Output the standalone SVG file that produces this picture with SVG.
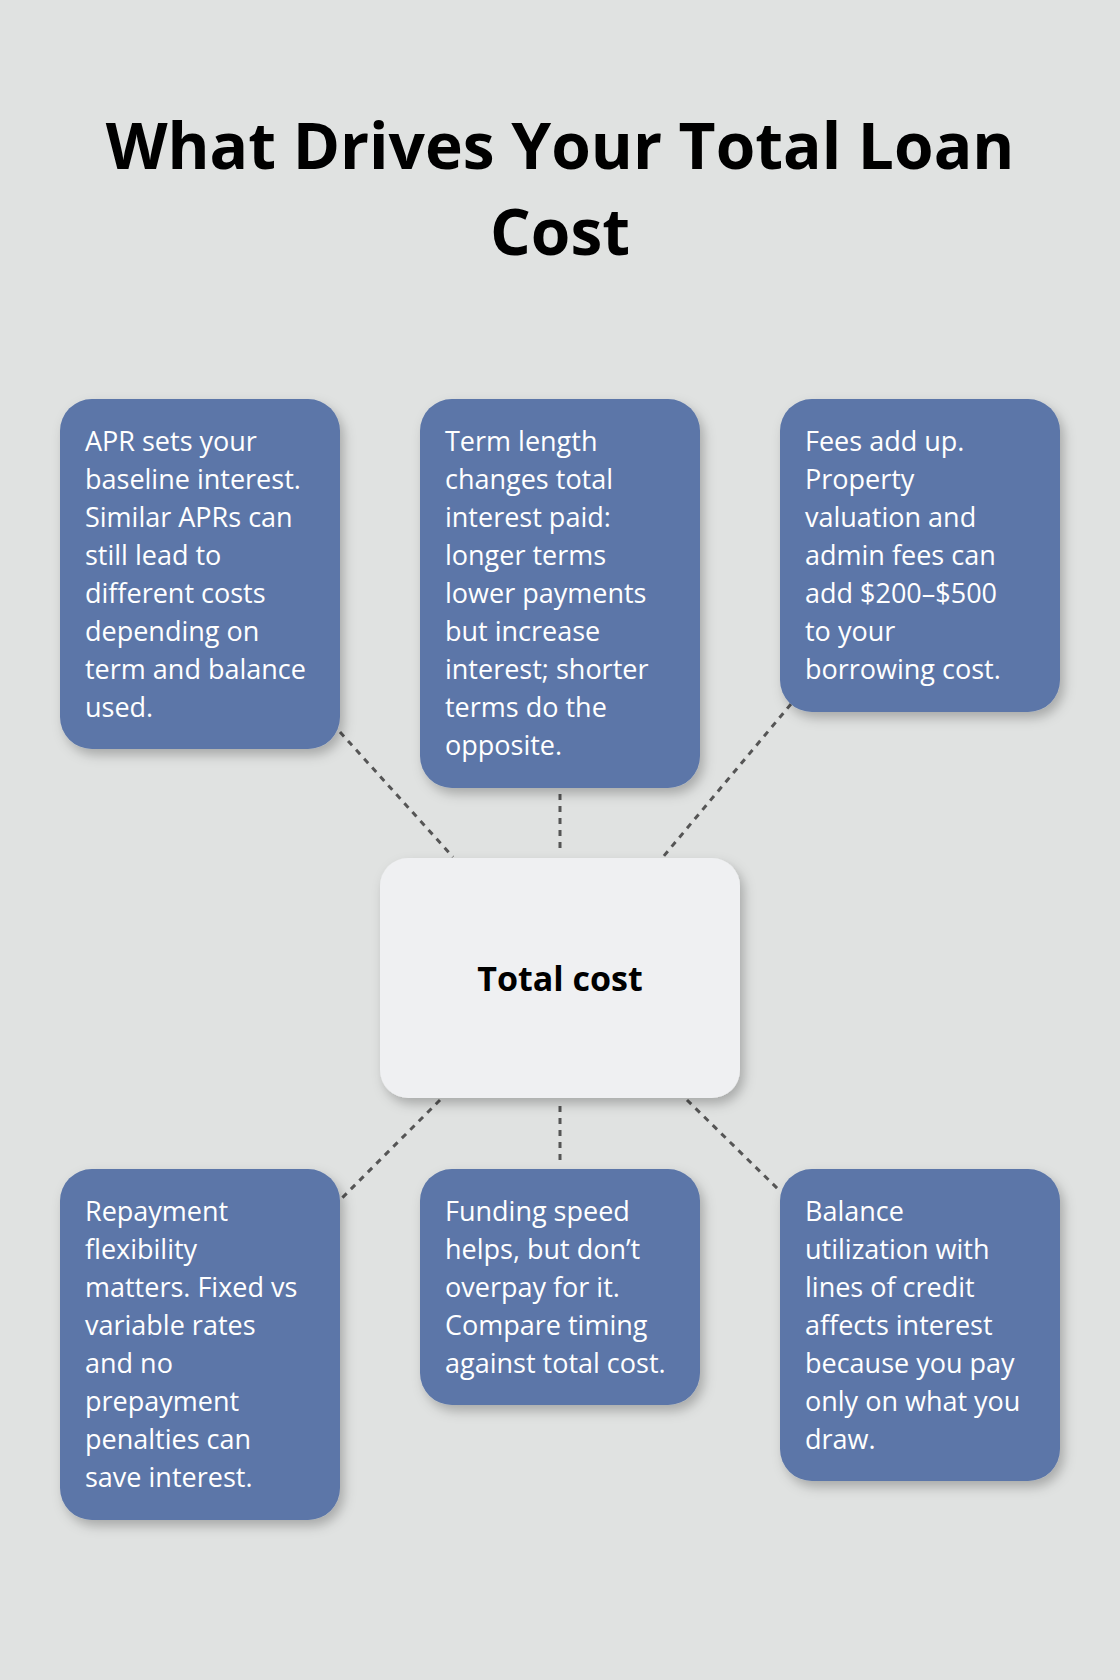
<svg xmlns="http://www.w3.org/2000/svg" width="1120" height="1680" viewBox="0 0 1120 1680">
<style>
.t{font-family:"Open Sans","Noto Sans",sans-serif;}
.title{font-size:64px;font-weight:700;fill:#000;}
.box{fill:#5b76a8;filter:url(#sh);}
.bt{font-size:27px;fill:#fff;}
.c{stroke:#555;stroke-width:3;stroke-dasharray:6 6;fill:none;}
</style>
<defs><filter id="sh" x="-20%" y="-20%" width="140%" height="140%"><feDropShadow dx="4" dy="6" stdDeviation="6" flood-color="#000" flood-opacity="0.25"/></filter></defs>
<rect width="1120" height="1680" fill="#e0e2e1"/>
<g id="title" class="t title" text-anchor="middle"><text x="560" y="169">What Drives Your Total Loan</text><text x="560" y="255">Cost</text></g>
<g id="connectors">
<line class="c" x1="340" y1="732" x2="453" y2="857"/>
<line class="c" x1="560" y1="794" x2="560" y2="852"/>
<line class="c" x1="791" y1="704" x2="663" y2="857"/>
<line class="c" x1="440" y1="1100" x2="340" y2="1200"/>
<line class="c" x1="560" y1="1106" x2="560" y2="1163"/>
<line class="c" x1="687" y1="1100" x2="781" y2="1192"/>
</g>
<g id="center"><rect x="380" y="858" width="360" height="240" rx="28" fill="#eff0f2" filter="url(#sh)"/><text class="t" x="560" y="991" text-anchor="middle" font-size="34" font-weight="700">Total cost</text></g>
<g id="n1"><rect class="box" x="60" y="399" width="280" height="350" rx="32"/><text class="t bt" x="85" y="451"><tspan x="85">APR sets your</tspan><tspan x="85" dy="38">baseline interest.</tspan><tspan x="85" dy="38">Similar APRs can</tspan><tspan x="85" dy="38">still lead to</tspan><tspan x="85" dy="38">different costs</tspan><tspan x="85" dy="38">depending on</tspan><tspan x="85" dy="38">term and balance</tspan><tspan x="85" dy="38">used.</tspan></text></g>
<g id="n2"><rect class="box" x="420" y="399" width="280" height="389" rx="32"/><text class="t bt" x="445" y="451"><tspan x="445">Term length</tspan><tspan x="445" dy="38">changes total</tspan><tspan x="445" dy="38">interest paid:</tspan><tspan x="445" dy="38">longer terms</tspan><tspan x="445" dy="38">lower payments</tspan><tspan x="445" dy="38">but increase</tspan><tspan x="445" dy="38">interest; shorter</tspan><tspan x="445" dy="38">terms do the</tspan><tspan x="445" dy="38">opposite.</tspan></text></g>
<g id="n3"><rect class="box" x="780" y="399" width="280" height="313" rx="32"/><text class="t bt" x="805" y="451"><tspan x="805">Fees add up.</tspan><tspan x="805" dy="38">Property</tspan><tspan x="805" dy="38">valuation and</tspan><tspan x="805" dy="38">admin fees can</tspan><tspan x="805" dy="38">add $200–$500</tspan><tspan x="805" dy="38">to your</tspan><tspan x="805" dy="38">borrowing cost.</tspan></text></g>
<g id="n4"><rect class="box" x="60" y="1169" width="280" height="351" rx="32"/><text class="t bt" x="85" y="1221"><tspan x="85">Repayment</tspan><tspan x="85" dy="38">flexibility</tspan><tspan x="85" dy="38">matters. Fixed vs</tspan><tspan x="85" dy="38">variable rates</tspan><tspan x="85" dy="38">and no</tspan><tspan x="85" dy="38">prepayment</tspan><tspan x="85" dy="38">penalties can</tspan><tspan x="85" dy="38">save interest.</tspan></text></g>
<g id="n5"><rect class="box" x="420" y="1169" width="280" height="236" rx="32"/><text class="t bt" x="445" y="1221"><tspan x="445">Funding speed</tspan><tspan x="445" dy="38">helps, but don’t</tspan><tspan x="445" dy="38">overpay for it.</tspan><tspan x="445" dy="38">Compare timing</tspan><tspan x="445" dy="38">against total cost.</tspan></text></g>
<g id="n6"><rect class="box" x="780" y="1169" width="280" height="312" rx="32"/><text class="t bt" x="805" y="1221"><tspan x="805">Balance</tspan><tspan x="805" dy="38">utilization with</tspan><tspan x="805" dy="38">lines of credit</tspan><tspan x="805" dy="38">affects interest</tspan><tspan x="805" dy="38">because you pay</tspan><tspan x="805" dy="38">only on what you</tspan><tspan x="805" dy="38">draw.</tspan></text></g>
</svg>
